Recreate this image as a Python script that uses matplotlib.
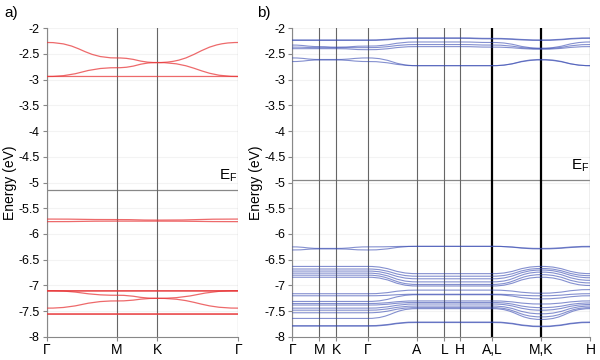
import numpy as np
import matplotlib
matplotlib.use('Agg')
import matplotlib.pyplot as plt
from matplotlib.path import Path
from matplotlib.patches import PathPatch
from matplotlib.ticker import FormatStrFormatter

plt.rcParams['font.family'] = ['Liberation Sans', 'DejaVu Sans']
plt.rcParams['mathtext.fontset'] = 'custom'
plt.rcParams['mathtext.rm'] = 'Liberation Sans'
plt.rcParams['mathtext.it'] = 'Liberation Sans'

# high-symmetry points along the k-path
k_a = [0, 0.577, 0.910, 1.577]
labels_a = ['Γ', 'M', 'K', 'Γ']
k_b = [0, 27, 44, 75.5, 124.5, 152, 167.5, 200, 249, 298]
labels_b = ['Γ', 'M', 'K', 'Γ', 'A', 'L', 'H', 'A,L', 'M,K', 'H']

# band energies (eV) at each high-symmetry point, panel a
bands_a = [
    [-2.28, -2.58, -2.67, -2.94],
    [-2.94, -2.77, -2.67, -2.28],
    [-2.94, -2.94, -2.94, -2.94],
    [-5.71, -5.72, -5.73, -5.71],
    [-5.76, -5.75, -5.75, -5.76],
    [-7.10, -7.10, -7.10, -7.10],
    [-7.11, -7.11, -7.11, -7.11],
    [-7.10, -7.19, -7.25, -7.44],
    [-7.44, -7.30, -7.25, -7.10],
    [-7.55, -7.55, -7.55, -7.55],
    [-7.56, -7.56, -7.56, -7.56],
]

# panel b:            G      M      K      G      A      L      H     A|L    M|K     H
bands_b_top = [
    [-2.23, -2.23, -2.23, -2.23, -2.19, -2.19, -2.19, -2.20, -2.23, -2.19],
    [-2.24, -2.24, -2.24, -2.24, -2.20, -2.20, -2.20, -2.21, -2.24, -2.20],
    [-2.33, -2.36, -2.37, -2.35, -2.27, -2.27, -2.27, -2.28, -2.39, -2.27],
    [-2.37, -2.38, -2.38, -2.38, -2.32, -2.32, -2.32, -2.33, -2.40, -2.32],
    [-2.40, -2.40, -2.40, -2.42, -2.36, -2.36, -2.36, -2.37, -2.41, -2.36],
    [-2.58, -2.61, -2.61, -2.58, -2.73, -2.73, -2.73, -2.73, -2.61, -2.73],
    [-2.65, -2.62, -2.62, -2.65, -2.73, -2.73, -2.73, -2.73, -2.62, -2.73],
]
bands_b_mid = [
    [-6.25, -6.28, -6.28, -6.25, -6.24, -6.24, -6.24, -6.24, -6.28, -6.24],
    [-6.31, -6.29, -6.29, -6.31, -6.24, -6.24, -6.24, -6.24, -6.29, -6.25],
]
bands_b_low = [
    [-6.63, -6.63, -6.63, -6.63, -6.77, -6.77, -6.77, -6.77, -6.63, -6.77],
    [-6.68, -6.68, -6.68, -6.68, -6.82, -6.82, -6.82, -6.82, -6.67, -6.81],
    [-6.72, -6.72, -6.72, -6.72, -6.87, -6.87, -6.87, -6.87, -6.70, -6.85],
    [-6.76, -6.76, -6.76, -6.76, -6.93, -6.93, -6.93, -6.93, -6.74, -6.90],
    [-6.80, -6.80, -6.80, -6.80, -6.98, -6.98, -6.98, -6.98, -6.79, -6.95],
    [-6.84, -6.84, -6.84, -6.84, -7.01, -7.01, -7.01, -7.01, -6.84, -7.00],
    [-7.16, -7.16, -7.16, -7.16, -7.09, -7.09, -7.09, -7.09, -7.15, -7.08],
    [-7.20, -7.20, -7.20, -7.20, -7.17, -7.17, -7.17, -7.17, -7.20, -7.16],
    [-7.31, -7.31, -7.31, -7.31, -7.18, -7.18, -7.18, -7.18, -7.26, -7.20],
    [-7.35, -7.35, -7.35, -7.35, -7.30, -7.30, -7.30, -7.30, -7.36, -7.30],
    [-7.38, -7.38, -7.38, -7.38, -7.33, -7.33, -7.33, -7.33, -7.43, -7.34],
    [-7.44, -7.44, -7.44, -7.44, -7.36, -7.36, -7.36, -7.36, -7.48, -7.37],
    [-7.48, -7.48, -7.48, -7.48, -7.40, -7.40, -7.40, -7.40, -7.55, -7.40],
    [-7.53, -7.53, -7.53, -7.53, -7.43, -7.43, -7.43, -7.43, -7.61, -7.43],
    [-7.64, -7.64, -7.64, -7.64, -7.45, -7.45, -7.45, -7.45, -7.66, -7.45],
    [-7.78, -7.78, -7.78, -7.78, -7.71, -7.71, -7.71, -7.71, -7.79, -7.71],
    [-7.79, -7.79, -7.79, -7.79, -7.72, -7.72, -7.72, -7.72, -7.80, -7.72],
]
bands_b = bands_b_top + bands_b_mid + bands_b_low

ef_a = -5.14
ef_b = -4.95


def band_path(ks, es):
    # smooth curve through the points, flat at each high-symmetry point
    verts = [(ks[0], es[0])]
    codes = [Path.MOVETO]
    for i in range(1, len(ks)):
        h = (ks[i] - ks[i - 1]) / 2.0
        verts += [(ks[i - 1] + h, es[i - 1]), (ks[i] - h, es[i]), (ks[i], es[i])]
        codes += [Path.CURVE4] * 3
    return Path(verts, codes)


def style(ax, ks, labels, ef):
    ax.set_xlim(ks[0], ks[-1])
    ax.set_ylim(-8, -2)
    ax.set_yticks(np.arange(-8, -1.99, 0.5))
    ax.yaxis.set_major_formatter(FormatStrFormatter('%g'))
    ax.set_xticks(ks)
    ax.set_xticklabels(labels, fontsize=10)
    ax.tick_params(axis='y', labelsize=9, length=3, color='#888888', pad=2)
    ax.tick_params(axis='x', length=3, color='#888888', pad=1)
    ax.grid(axis='y', color='#f3f3f3', lw=0.8)
    ax.set_axisbelow(True)
    for s in ['top', 'right']:
        ax.spines[s].set_visible(False)
    for s in ['left', 'bottom']:
        ax.spines[s].set_color('#888888')
    ax.set_ylabel('Energy (eV)', fontsize=10, labelpad=1)
    ax.axhline(ef, color='#888888', lw=0.9, zorder=1)
    ax.text(ks[-1] - 0.005 * (ks[-1] - ks[0]), ef + 0.12, r'E$_{\mathregular{F}}$',
            ha='right', va='bottom', fontsize=11)


fig = plt.figure(figsize=(6, 3.6), dpi=100)
ax1 = fig.add_axes([0.078, 0.064, 0.319, 0.858])
ax2 = fig.add_axes([0.487, 0.064, 0.497, 0.858])

style(ax1, k_a, labels_a, ef_a)
for k in k_a:
    ax1.axvline(k, color='#666666', lw=0.8, zorder=1)
for b in bands_a:
    ax1.add_patch(PathPatch(band_path(k_a, b), fc='none', ec='#e8383a', lw=0.9, alpha=0.75, zorder=3))

style(ax2, k_b, labels_b, ef_b)
for i, k in enumerate(k_b):
    if labels_b[i] in ('A,L', 'M,K'):
        ax2.axvline(k, color='black', lw=1.6, zorder=1)
    elif i == len(k_b) - 1:
        ax2.axvline(k, color='#aaaaaa', lw=1.0, zorder=1)
    else:
        ax2.axvline(k, color='#666666', lw=0.8, zorder=1)
for b in bands_b:
    ax2.add_patch(PathPatch(band_path(k_b, b), fc='none', ec='#3346b0', lw=0.8, alpha=0.6, zorder=3))

fig.text(0.008, 0.965, 'a)', fontsize=11, va='center')
fig.text(0.428, 0.965, 'b)', fontsize=11, va='center')

fig.savefig('out.png', dpi=100)
